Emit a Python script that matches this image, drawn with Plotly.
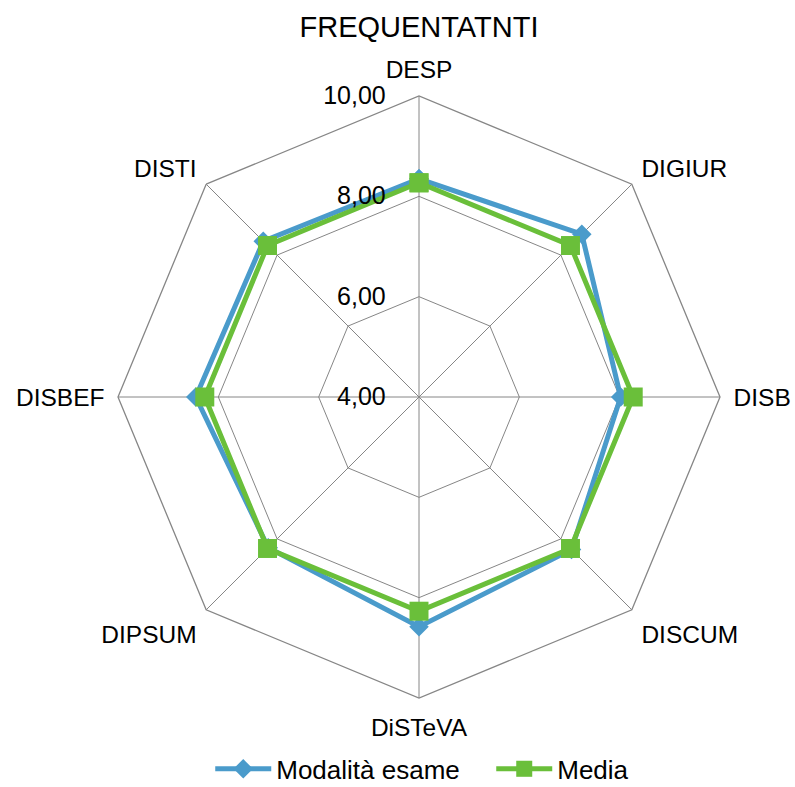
import plotly.graph_objects as go

categorie = ["DESP", "DIGIUR", "DISB", "DISCUM", "DiSTeVA", "DIPSUM", "DISBEF", "DISTI"]
modalita_esame = [8.35, 8.59, 8.02, 8.30, 8.58, 8.25, 8.45, 8.39]
media = [8.27, 8.27, 8.27, 8.27, 8.27, 8.27, 8.27, 8.27]
tick_vals = [4, 6, 8, 10]
tick_text = ["4,00", "6,00", "8,00", "10,00"]

BLU = "#4A9BCB"
VERDE = "#6ABF3A"
GRIGIO = "#868686"

fig = go.Figure()

# chiude il poligono ripetendo il primo punto
fig.add_trace(go.Scatterpolar(
    r=modalita_esame + modalita_esame[:1],
    theta=categorie + categorie[:1],
    mode="lines+markers",
    name="Modalità esame",
    line=dict(color=BLU, width=5),
    marker=dict(symbol="diamond", size=15, color=BLU),
))
fig.add_trace(go.Scatterpolar(
    r=media + media[:1],
    theta=categorie + categorie[:1],
    mode="lines+markers",
    name="Media",
    line=dict(color=VERDE, width=5),
    marker=dict(symbol="square", size=19, color=VERDE),
))

fig.update_layout(
    width=795, height=787,
    margin=dict(l=118, r=75, t=96, b=89),
    paper_bgcolor="white",
    font=dict(family="Liberation Sans, Arial, sans-serif", size=24, color="black"),
    title=dict(text="FREQUENTATNTI", x=0.5, xref="paper", xanchor="center",
               y=0.966, yref="container", yanchor="middle",
               font=dict(size=29, color="black")),
    polar=dict(
        bgcolor="white",
        gridshape="linear",
        domain=dict(x=[0, 1], y=[0, 1]),
        radialaxis=dict(
            range=[4, 10],
            tickvals=tick_vals,
            ticktext=tick_text,
            angle=90,
            tickangle=90,
            side="counterclockwise",
            showline=False,
            # tacche invisibili: servono solo a spostare le etichette a sinistra
            ticks="outside",
            ticklen=24,
            tickcolor="rgba(0,0,0,0)",
            gridcolor=GRIGIO,
            gridwidth=1.3,
            tickfont=dict(size=25, color="black"),
        ),
        angularaxis=dict(
            direction="clockwise",
            rotation=90,
            showline=True,
            linecolor=GRIGIO,
            linewidth=1.3,
            gridcolor=GRIGIO,
            gridwidth=1.3,
            ticks="outside",
            ticklen=8,
            tickcolor="rgba(0,0,0,0)",
            tickfont=dict(size=24.5, color="black"),
        ),
    ),
    showlegend=True,
    legend=dict(orientation="h", x=0.62, xref="paper", xanchor="center",
                y=0.023, yref="container", yanchor="middle",
                font=dict(size=26, color="black"), itemwidth=56,
                entrywidth=210),
)

# niente margine del body, così la figura riempie esattamente la finestra
fig.write_html("out.html",
               config={"displayModeBar": False},
               post_script="document.body.style.margin='0';document.body.style.overflow='hidden';")
